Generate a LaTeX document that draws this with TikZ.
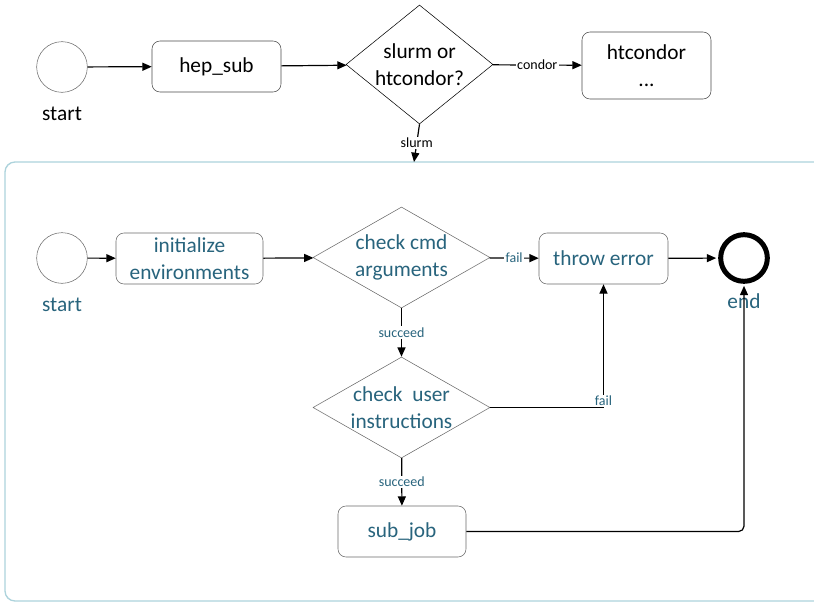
\documentclass[tikz,border=0pt]{standalone}
\usepackage{fontspec}
\setmainfont{Carlito}
\usetikzlibrary{shapes.geometric,arrows.meta}
\definecolor{flowtext}{RGB}{40,100,125}
\definecolor{poolline}{RGB}{173,211,220}
\definecolor{boxline}{RGB}{105,105,105}

\begin{document}
\begin{tikzpicture}[x=0.75pt,y=-0.75pt]
\tikzstyle{every node}=[font=\fontsize{16}{20}\selectfont, align=center]
\tikzstyle{event}=[circle, draw=boxline, minimum size=38pt, inner sep=0pt]
\tikzstyle{task}=[rectangle, rounded corners=6pt, draw=boxline, minimum width=96.75pt, minimum height=38.25pt]
\tikzstyle{gate}=[diamond, draw=boxline, inner sep=-1.5pt, shape aspect=1.75, minimum width=132.75pt, minimum height=75.75pt]
\tikzstyle{flow}=[draw, line width=0.9pt, -{Triangle[length=7pt,width=6pt]}]
\tikzstyle{cond}=[font=\fontsize{10.5}{12}\selectfont, fill=white, inner sep=1pt]
\tikzstyle{lower}=[text=flowtext]

\clip (0,0) rectangle (814,603);
\fill[white] (0,0) rectangle (814,603);
\draw[poolline, line width=1pt, rounded corners=7.5pt] (5,162) rectangle (850,601);

\node[event, label={[label distance=7pt]below:start}] (start) at (62,67) {};
\node[task, draw=black!70] (hepsub) at (216.5,66.5) {hep\_sub};
\node[gate, draw=black, shape aspect=1.24, minimum width=110.25pt, minimum height=89.25pt] (slurmq) at (419.5,64.5) {slurm or\\htcondor?};
\node[task, draw=black!70, minimum height=50.25pt] (htcondor) at (646.5,65.5) {htcondor\\...};
\coordinate (pooltop) at (414,162);

\node[event, label={[lower, label distance=7pt]below:start}] (start2) at (62,258) {};
\node[task, lower, minimum width=110.25pt] (init) at (189.5,258.5) {initialize\\environments};
\node[gate, lower] (chkcmd) at (401.5,257.5) {check cmd\\arguments};
\node[task, lower] (throw) at (603.5,258.5) {throw error};
\node[event, draw=black, line width=3.75pt, minimum size=35pt, label={[lower, label distance=3.5pt]below:end}] (endev) at (744,258) {};
\node[gate, lower] (chkuser) at (401.5,407.5) {check~~user\\instructions};
\node[task, lower, minimum width=96pt] (subjob) at (402,531.5) {sub\_job};

\draw[flow] (start) -- (hepsub);
\draw[flow] (hepsub) -- (slurmq);
\draw[flow] (slurmq) -- node[cond]{condor} (htcondor);
\draw[flow] (slurmq.south) -- node[cond]{slurm} (pooltop);

\draw[flow] (start2) -- (init);
\draw[flow] (init) -- (chkcmd);
\draw[flow] (chkcmd) -- node[cond, lower]{fail} (throw);
\draw[flow, shorten >=1.5pt] (throw) -- (endev);
\draw[flow] (chkcmd) -- node[cond, lower]{succeed} (chkuser);
\draw[flow] (chkuser) -| node[cond, lower, pos=0.5, yshift=5pt]{fail} (throw);
\draw[flow] (chkuser) -- node[cond, lower]{succeed} (subjob);
\draw[flow, rounded corners=4pt, shorten >=1.5pt] (subjob) -| (endev);
\end{tikzpicture}
\end{document}
